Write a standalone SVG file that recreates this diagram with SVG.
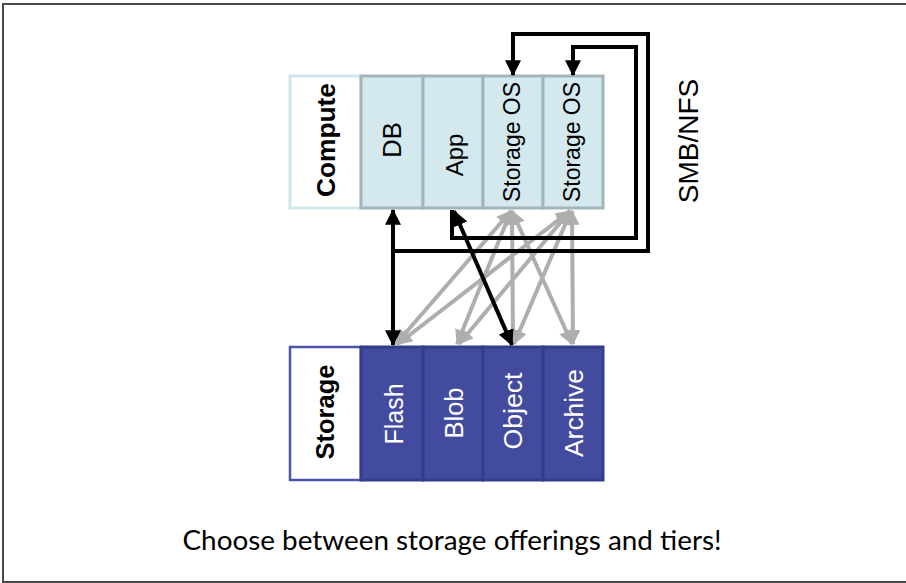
<svg xmlns="http://www.w3.org/2000/svg" width="906" height="583" viewBox="0 0 906 583">
<defs>
<style>
.frame{fill:#fff;stroke:#4a4a4a;stroke-width:2}
.clabel{fill:#fff;stroke:#cfe6ea;stroke-width:3}
.ccell{fill:#d3e9ee;stroke:#a3b5ba;stroke-width:3}
.slabel{fill:#fff;stroke:#4d55a6;stroke-width:2.5}
.scell{fill:#434b9f;stroke:#353c8a;stroke-width:3}
.t{font-family:"Liberation Sans",Arial,sans-serif;text-anchor:middle}
.b{font-weight:bold;fill:#000}
.dk{fill:#000}
.wt{fill:#fff}
.blk{fill:none;stroke:#000;stroke-width:4;stroke-linejoin:miter}
.gry{fill:none;stroke:#aeaeae;stroke-width:4}
.cap{font-family:Lato,"Open Sans",sans-serif;font-size:26px;fill:#000;text-anchor:middle}
</style>
<marker id="ab" markerUnits="userSpaceOnUse" viewBox="0 0 14 14" refX="13" refY="7" markerWidth="16" markerHeight="16" orient="auto-start-reverse">
<path d="M0,0 L14,7 L0,14 Z" fill="#000"/>
</marker>
<marker id="ag" markerUnits="userSpaceOnUse" viewBox="0 0 14 14" refX="13" refY="7" markerWidth="15" markerHeight="15" orient="auto-start-reverse">
<path d="M0,0 L14,7 L0,14 Z" fill="#aeaeae"/>
</marker>
</defs>
<rect class="frame" x="3" y="4" width="912" height="578"/>

<g id="compute">
<g id="compute-label"><rect class="clabel" x="290" y="76" width="71" height="132"/>
<text class="t b" transform="translate(335,140) rotate(-90)" font-size="25" textLength="114" lengthAdjust="spacingAndGlyphs">Compute</text></g>
<g id="db"><rect class="ccell" x="361" y="76" width="62" height="132"/>
<text class="t dk" transform="translate(401,140) rotate(-90)" font-size="25.5">DB</text></g>
<g id="app"><rect class="ccell" x="423" y="76" width="60" height="132"/>
<text class="t dk" transform="translate(463,155) rotate(-90)" font-size="24">App</text></g>
<g id="storage-os-1"><rect class="ccell" x="483" y="76" width="60" height="132"/>
<text class="t dk" transform="translate(520,142) rotate(-90)" font-size="23">Storage OS</text></g>
<g id="storage-os-2"><rect class="ccell" x="543" y="76" width="60" height="132"/>
<text class="t dk" transform="translate(580,142) rotate(-90)" font-size="23">Storage OS</text></g>
</g>

<g id="storage">
<g id="storage-label"><rect class="slabel" x="290" y="347" width="71" height="133"/>
<text class="t b" transform="translate(334,412) rotate(-90)" font-size="25" textLength="95" lengthAdjust="spacingAndGlyphs">Storage</text></g>
<g id="flash"><rect class="scell" x="361" y="347" width="62" height="133"/>
<text class="t wt" transform="translate(403,414) rotate(-90)" font-size="26" textLength="61" lengthAdjust="spacingAndGlyphs">Flash</text></g>
<g id="blob"><rect class="scell" x="423" y="347" width="60" height="133"/>
<text class="t wt" transform="translate(463,413) rotate(-90)" font-size="26" textLength="51" lengthAdjust="spacingAndGlyphs">Blob</text></g>
<g id="object"><rect class="scell" x="483" y="347" width="60" height="133"/>
<text class="t wt" transform="translate(522,411) rotate(-90)" font-size="26" textLength="77" lengthAdjust="spacingAndGlyphs">Object</text></g>
<g id="archive"><rect class="scell" x="543" y="347" width="60" height="133"/>
<text class="t wt" transform="translate(583,413) rotate(-90)" font-size="26" textLength="88" lengthAdjust="spacingAndGlyphs">Archive</text></g>
</g>

<g id="connectors">
<line class="gry" x1="511" y1="211" x2="396" y2="344" marker-start="url(#ag)" marker-end="url(#ag)"/>
<line class="gry" x1="511" y1="211" x2="457" y2="344" marker-start="url(#ag)" marker-end="url(#ag)"/>
<line class="gry" x1="512" y1="211" x2="513" y2="344" marker-start="url(#ag)" marker-end="url(#ag)"/>
<line class="gry" x1="512" y1="211" x2="572" y2="344" marker-start="url(#ag)" marker-end="url(#ag)"/>
<line class="gry" x1="570" y1="211" x2="398" y2="344" marker-start="url(#ag)" marker-end="url(#ag)"/>
<line class="gry" x1="570" y1="211" x2="459" y2="344" marker-start="url(#ag)" marker-end="url(#ag)"/>
<line class="gry" x1="571" y1="211" x2="514" y2="344" marker-start="url(#ag)" marker-end="url(#ag)"/>
<line class="gry" x1="572" y1="211" x2="573" y2="344" marker-start="url(#ag)" marker-end="url(#ag)"/>
<line class="blk" x1="393" y1="210" x2="393" y2="345" marker-start="url(#ab)" marker-end="url(#ab)"/>
<line class="blk" x1="454" y1="211" x2="512" y2="345" marker-start="url(#ab)" marker-end="url(#ab)"/>
<path class="blk" d="M393,251 H648 V34 H513 V75" marker-end="url(#ab)"/>
<path class="blk" d="M452,210 V238 H636 V47 H573 V75" marker-end="url(#ab)"/>
</g>

<text class="t dk" transform="translate(698,141) rotate(-90)" font-size="28">SMB/NFS</text>
<text class="cap" x="452" y="550" textLength="539" lengthAdjust="spacingAndGlyphs">Choose between storage offerings and tiers!</text>
</svg>
